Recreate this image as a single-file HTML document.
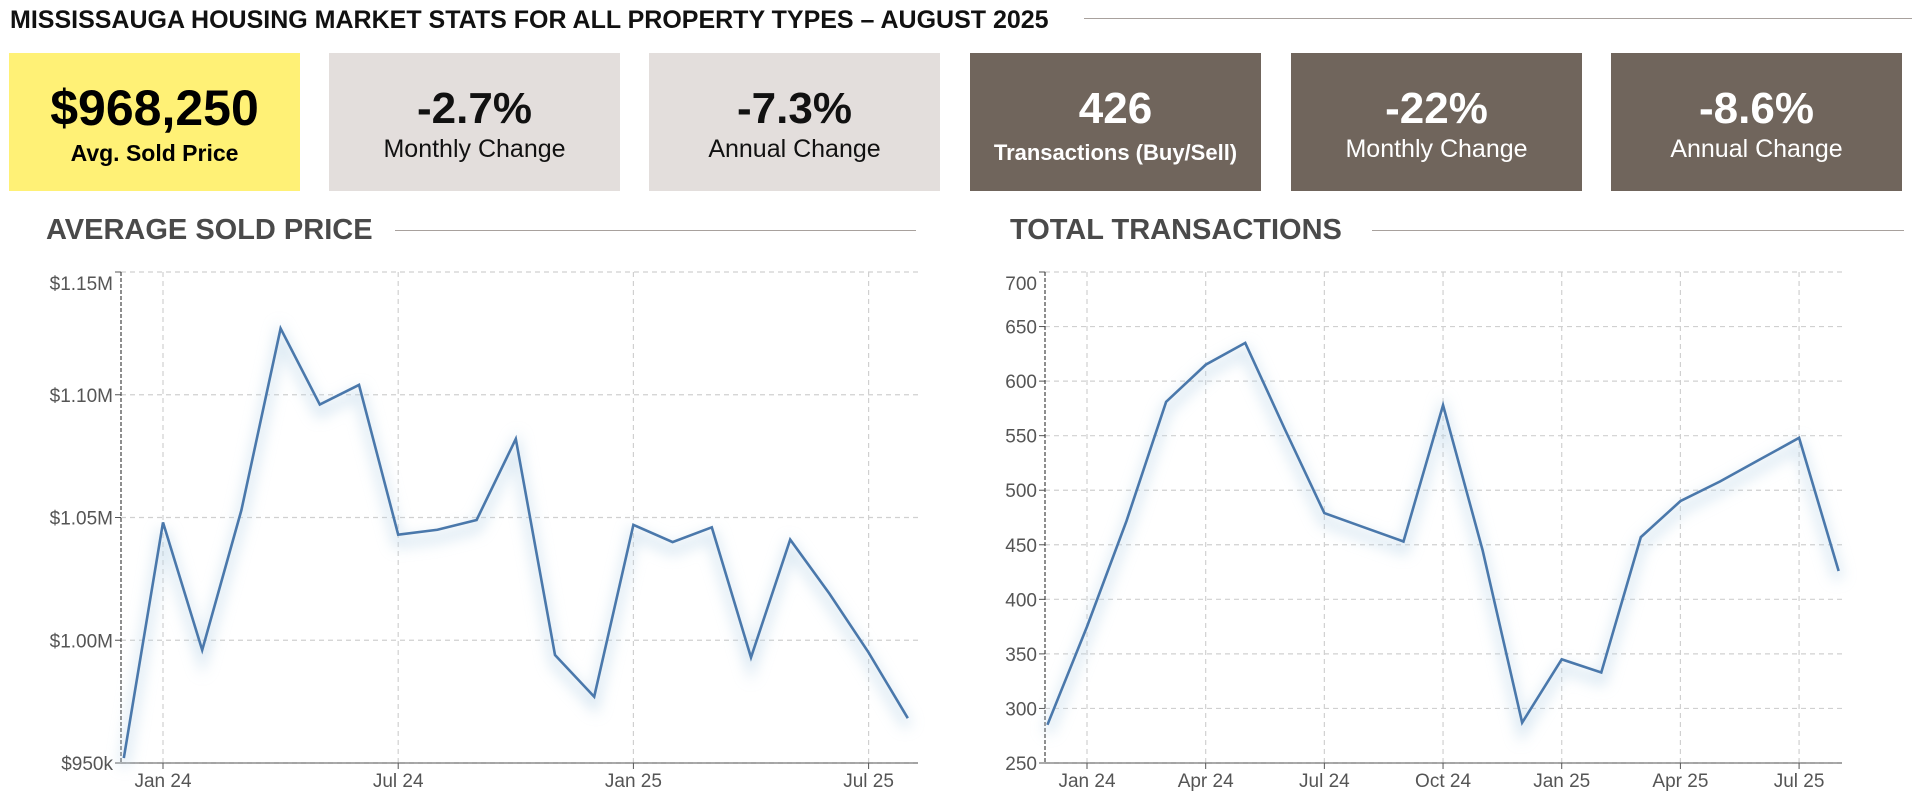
<!DOCTYPE html>
<html><head><meta charset="utf-8"><style>
html,body{margin:0;padding:0;background:#fff;width:1920px;height:808px;overflow:hidden;font-family:"Liberation Sans",sans-serif}
.title{position:absolute;left:10px;top:6px;font-size:25px;font-weight:bold;color:#111;white-space:nowrap}
.hline{position:absolute;height:1px;background:#a8a19d}
.box{position:absolute;top:53px;width:291px;height:138px;text-align:center}
.box .v{position:absolute;left:0;right:0;top:78px;font-size:44px;font-weight:600;line-height:1;transform:translateY(-100%)}
.box .l{position:absolute;left:0;right:0;top:83px;font-size:25px;line-height:1.1}
.y{background:#fff176;color:#000}.g{background:#e3dedc;color:#111}.d{background:#70655c;color:#fff}
.sec{position:absolute;top:214px;font-size:29px;font-weight:bold;color:#4a4a4a;white-space:nowrap}
svg text{font-family:"Liberation Sans",sans-serif;font-size:19px;fill:#555}
</style></head><body>
<div class="title">MISSISSAUGA HOUSING MARKET STATS FOR ALL PROPERTY TYPES – AUGUST 2025</div>
<div class="hline" style="left:1084px;width:828px;top:18px"></div>

<div class="box y" style="left:9px"><div class="v" style="font-weight:bold;font-size:50px;top:80px">$968,250</div><div class="l" style="font-weight:bold;font-size:23px;top:88px">Avg. Sold Price</div></div>
<div class="box g" style="left:329px"><div class="v">-2.7%</div><div class="l">Monthly Change</div></div>
<div class="box g" style="left:649px"><div class="v">-7.3%</div><div class="l">Annual Change</div></div>
<div class="box d" style="left:970px"><div class="v">426</div><div class="l" style="font-weight:bold;font-size:22px;top:88px">Transactions (Buy/Sell)</div></div>
<div class="box d" style="left:1291px"><div class="v">-22%</div><div class="l">Monthly Change</div></div>
<div class="box d" style="left:1611px"><div class="v">-8.6%</div><div class="l">Annual Change</div></div>

<div class="sec" style="left:46px">AVERAGE SOLD PRICE</div>
<div class="hline" style="left:395px;width:521px;top:230px"></div>
<div class="sec" style="left:1010px">TOTAL TRANSACTIONS</div>
<div class="hline" style="left:1372px;width:532px;top:230px"></div>

<svg id="c1" style="position:absolute;left:0;top:0" width="960" height="808"></svg>
<svg id="c2" style="position:absolute;left:960px;top:0" width="960" height="808"></svg>

<script>
const months = ["Dec 23","Jan 24","Feb 24","Mar 24","Apr 24","May 24","Jun 24","Jul 24","Aug 24","Sep 24","Oct 24","Nov 24","Dec 24","Jan 25","Feb 25","Mar 25","Apr 25","May 25","Jun 25","Jul 25","Aug 25"];
const priceValues = [952,1048,996,1053,1127,1096,1104,1043,1045,1049,1082,994,977,1047,1040,1046,993,1041,1019,995,968.25];
const transValues = [285,375,472,581,615,635,556,479,466,453,578,445,287,345,333,457,490,508,528,548,426];
const priceTicks = [950,1000,1050,1100,1150];
const priceTickLabels = ["$950k","$1.00M","$1.05M","$1.10M","$1.15M"];
const transTicks = [250,300,350,400,450,500,550,600,650,700];
const priceXTicks = [1,7,13,19];
const priceXLabels = ["Jan 24","Jul 24","Jan 25","Jul 25"];
const transXTicks = [1,4,7,10,13,16,19];
const transXLabels = ["Jan 24","Apr 24","Jul 24","Oct 24","Jan 25","Apr 25","Jul 25"];
const NS="http://www.w3.org/2000/svg";
function mk(svg,tag,attrs){const e=document.createElementNS(NS,tag);for(const k in attrs)e.setAttribute(k,attrs[k]);svg.appendChild(e);return e;}
function draw(id,vals,yT,yL,xT,xL,o){
  const svg=document.getElementById(id);
  const xs=i=>o.x0+(i-1)*o.mw, ys=v=>o.yb-(v-o.ymin)/(o.ymax-o.ymin)*(o.yb-o.yt);
  const defs=mk(svg,"defs",{});
  const f=mk(defs,"filter",{id:id+"f",x:"-10%",y:"-10%",width:"120%",height:"130%"});
  mk(f,"feGaussianBlur",{stdDeviation:"7"});
  yT.forEach((t,i)=>{const y=ys(t);
    const g=mk(svg,"line",{x1:o.ax,x2:o.xr,y1:y,y2:y,stroke:"#d0d0d0","stroke-dasharray":"5,4","stroke-width":1.2});
    
    mk(svg,"line",{x1:o.ax-6,x2:o.ax,y1:y,y2:y,stroke:"#555"});
    const ty=(i===yT.length-1)?y+18:y+7;
    const tx=mk(svg,"text",{x:o.ax-8,y:ty,"text-anchor":"end"});tx.textContent=yL?yL[i]:t;
    });
  xT.forEach((m,i)=>{const x=xs(m);
    const g=mk(svg,"line",{x1:x,x2:x,y1:o.yt,y2:o.yb,stroke:"#d0d0d0","stroke-dasharray":"5,4","stroke-width":1.2});
    
    mk(svg,"line",{x1:x,x2:x,y1:o.yb,y2:o.yb+6,stroke:"#555"});
    const tx=mk(svg,"text",{x:x,y:o.yb+24,"text-anchor":"middle"});tx.textContent=xL[i];
    });
  const ax=mk(svg,"line",{x1:o.ax,x2:o.ax,y1:o.yt,y2:o.yb,stroke:"#444","stroke-dasharray":"4,2","stroke-width":1.2});
  
  const xa=mk(svg,"line",{x1:o.ax,x2:o.xr,y1:o.yb,y2:o.yb,stroke:"#555","stroke-width":1});
  
  const pts=vals.map((v,i)=>xs(i)+","+ys(v)).join(" ");
  mk(svg,"polyline",{points:pts,fill:"none",stroke:"#bcd6e8","stroke-width":10,opacity:0.55,filter:"url(#"+id+"f)",transform:"translate(0,8)"});
  const l=mk(svg,"polyline",{points:pts,fill:"none",stroke:"#4a78ab","stroke-width":2.6,"stroke-linejoin":"miter"});
  
}
draw("c1",priceValues,priceTicks,priceTickLabels,priceXTicks,priceXLabels,{x0:163,mw:39.2,ax:121,xr:918,yt:272,yb:763,ymin:950,ymax:1150});
draw("c2",transValues,transTicks,null,transXTicks,transXLabels,{x0:1087-960,mw:39.56,ax:1045-960,xr:1842-960,yt:272,yb:763,ymin:250,ymax:700});
</script>
</body></html>
